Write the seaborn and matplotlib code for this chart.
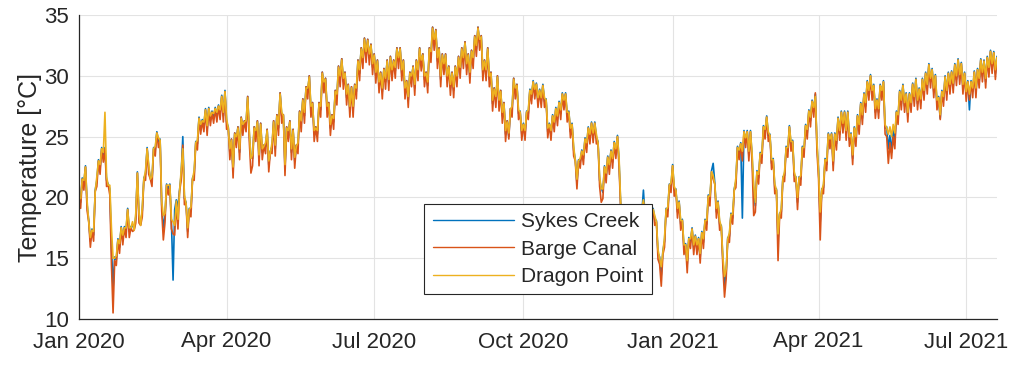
import matplotlib
matplotlib.use("Agg")
import matplotlib.pyplot as plt
import numpy as np
import pandas as pd
import seaborn as sns

# Daily water temperature (°C) at three lagoon stations, starting 1 Jan 2020.
# Values alternate between daytime highs and night-time lows.
sykes_creek = [
    20.1, 19.6, 21.6, 21.1, 22.6, 19.4, 18.1, 16.4, 17.4, 16.9,
    20.6, 21.4, 23.1, 22.4, 24.1, 23.4, 24.1, 21.4, 21.1, 20.7,
    16.0, 12.5, 15.1, 14.9, 16.6, 15.9, 17.6, 16.6, 17.6, 17.2,
    19.1, 17.2, 17.6, 17.7, 17.4, 18.4, 22.1, 18.4, 17.8, 18.9,
    21.6, 21.9, 24.1, 22.4, 21.6, 21.4, 24.1, 23.9, 25.4, 24.6,
    24.8, 19.4, 17.5, 18.4, 21.1, 20.7, 21.1, 17.9, 13.2, 19.0,
    19.8, 19.2, 20.6, 21.9, 25.0, 19.9, 19.6, 17.2, 19.1, 18.9,
    21.6, 21.9, 24.6, 24.4, 26.6, 25.7, 26.4, 25.9, 27.3, 25.6,
    27.4, 26.4, 27.1, 26.6, 27.4, 26.7, 27.6, 26.9, 28.4, 26.7,
    28.8, 26.2, 25.8, 23.7, 24.8, 22.2, 25.3, 24.7, 25.8, 23.7,
    26.6, 25.7, 26.3, 26.0, 28.3, 25.2, 23.3, 23.2, 25.8, 25.2,
    26.3, 23.2, 26.1, 23.7, 24.3, 24.2, 25.6, 22.7, 23.8, 24.2,
    26.3, 24.0, 26.8, 25.7, 28.6, 26.7, 26.8, 22.4, 25.8, 25.2,
    26.3, 23.7, 25.6, 23.0, 24.3, 24.2, 27.1, 26.0, 28.1, 26.7,
    29.1, 28.7, 30.0, 27.2, 27.8, 25.2, 25.8, 25.2, 27.8, 27.2,
    30.3, 29.2, 29.8, 27.2, 27.8, 25.7, 26.8, 26.2, 28.8, 28.2,
    30.8, 29.7, 31.4, 29.5, 30.3, 28.2, 29.3, 27.2, 29.1, 27.2,
    29.3, 28.7, 31.3, 30.2, 32.3, 31.2, 33.1, 31.7, 33.0, 31.5,
    32.6, 30.7, 31.8, 30.0, 31.3, 29.2, 30.3, 28.7, 30.6, 29.5,
    31.3, 29.4, 31.6, 30.2, 31.3, 30.4, 32.3, 31.2, 32.3, 30.2,
    31.3, 28.7, 29.6, 28.0, 30.3, 29.7, 30.8, 29.0, 31.3, 30.2,
    32.3, 31.0, 31.8, 29.7, 30.3, 29.2, 32.3, 31.7, 34.0, 32.7,
    33.8, 31.2, 32.3, 29.7, 31.8, 30.7, 31.8, 29.7, 30.8, 29.0,
    30.3, 28.8, 30.8, 29.7, 31.6, 30.4, 32.3, 31.2, 32.8, 30.7,
    31.8, 30.0, 32.1, 31.2, 33.3, 32.2, 34.0, 32.7, 33.3, 30.2,
    31.3, 30.2, 32.3, 29.7, 30.3, 27.7, 29.0, 28.0, 30.0, 27.7,
    28.8, 26.7, 27.8, 25.2, 26.3, 25.0, 27.3, 27.2, 29.8, 28.7,
    29.3, 26.9, 27.1, 25.2, 26.1, 25.2, 27.1, 26.9, 28.9, 28.2,
    29.6, 28.6, 29.4, 27.9, 28.9, 27.9, 29.3, 27.9, 28.1, 25.4,
    26.1, 25.2, 26.8, 25.9, 27.4, 26.4, 27.9, 26.9, 28.6, 27.7,
    28.6, 26.7, 27.1, 25.4, 26.1, 23.9, 23.1, 21.2, 23.1, 22.9,
    23.9, 23.2, 24.9, 24.2, 25.8, 24.9, 26.2, 25.0, 26.2, 24.9,
    24.6, 21.4, 20.8, 20.4, 22.6, 21.7, 23.4, 22.4, 23.9, 22.9,
    24.6, 23.7, 25.1, 22.9, 19.3, 17.7, 18.1, 16.4, 17.4, 16.4,
    18.1, 16.6, 18.4, 17.4, 18.1, 17.6, 19.4, 18.7, 20.6, 18.4,
    18.6, 16.9, 19.1, 18.7, 19.1, 18.2, 18.1, 15.4, 15.1, 13.6,
    15.6, 16.4, 19.1, 18.9, 21.1, 20.9, 22.7, 20.6, 20.7, 18.8,
    19.7, 17.8, 18.2, 15.8, 16.2, 14.5, 16.7, 16.3, 17.5, 15.8,
    16.9, 15.8, 16.7, 15.1, 17.2, 16.3, 18.2, 17.8, 20.2, 19.8,
    22.2, 22.8, 21.2, 18.8, 19.7, 17.8, 17.7, 14.8, 12.8, 13.8,
    16.7, 16.8, 18.7, 18.3, 20.7, 21.3, 24.2, 23.6, 24.5, 18.3,
    25.5, 24.6, 25.5, 23.5, 25.5, 23.3, 20.5, 19.3, 22.2, 21.6,
    23.7, 23.3, 25.9, 25.3, 26.7, 25.1, 25.2, 22.8, 23.2, 20.8,
    20.7, 16.5, 18.7, 18.8, 21.7, 21.8, 24.2, 23.8, 25.9, 24.3,
    24.7, 21.8, 21.7, 19.6, 21.7, 21.5, 24.2, 23.8, 26.0, 25.3,
    27.2, 26.3, 28.0, 27.1, 28.5, 24.3, 22.2, 18.0, 20.7, 20.8,
    23.2, 22.7, 25.3, 24.5, 25.3, 22.7, 25.3, 24.4, 26.6, 25.2,
    27.1, 25.8, 27.1, 25.2, 27.1, 24.7, 25.3, 23.2, 25.8, 24.7,
    26.8, 25.7, 27.8, 26.5, 28.6, 27.5, 29.6, 28.5, 30.1, 28.5,
    29.3, 27.0, 28.1, 27.0, 29.3, 28.5, 29.6, 25.7, 25.8, 24.0,
    25.1, 23.7, 25.6, 24.5, 27.1, 26.5, 28.8, 27.7, 29.3, 27.5,
    28.6, 26.7, 28.6, 27.5, 29.4, 28.0, 29.8, 27.7, 29.0, 27.8,
    29.8, 28.5, 30.3, 29.0, 31.0, 29.5, 30.6, 28.7, 30.1, 27.7,
    28.3, 26.5, 28.8, 28.0, 30.0, 28.5, 30.3, 29.0, 30.4, 29.1,
    31.0, 29.7, 31.4, 29.8, 31.1, 29.0, 30.3, 28.4, 29.6, 27.2,
    29.6, 28.7, 30.4, 28.7, 30.6, 29.5, 31.4, 30.0, 31.3, 29.5,
    31.6, 30.4, 32.1, 30.7, 32.0, 30.2, 31.6,
]

barge_canal = [
    20.0, 19.1, 21.5, 20.6, 22.5, 18.9, 18.0, 15.9, 17.3, 16.4,
    20.5, 20.9, 23.0, 21.9, 24.0, 22.9, 24.0, 20.9, 21.0, 20.2,
    14.5, 10.5, 14.8, 14.4, 16.5, 15.4, 17.5, 16.1, 17.5, 16.7,
    19.0, 16.7, 17.5, 17.2, 17.3, 17.9, 22.0, 17.9, 17.7, 18.4,
    21.5, 21.4, 24.0, 21.9, 21.5, 20.9, 24.0, 23.4, 25.3, 24.1,
    24.7, 18.9, 16.5, 17.9, 21.0, 20.2, 21.0, 17.4, 17.0, 16.9,
    19.5, 17.4, 20.5, 21.4, 24.3, 19.4, 19.5, 16.7, 19.0, 18.4,
    21.5, 21.4, 24.5, 23.9, 26.5, 25.2, 26.3, 25.4, 27.2, 25.1,
    27.3, 25.9, 27.0, 26.1, 27.3, 26.2, 27.5, 26.4, 28.3, 26.2,
    28.7, 25.6, 25.8, 23.1, 24.8, 21.6, 25.3, 24.1, 25.8, 23.1,
    26.6, 25.1, 26.3, 25.4, 28.3, 24.6, 22.0, 22.6, 25.8, 24.6,
    26.3, 22.6, 26.1, 23.1, 24.3, 23.6, 25.6, 22.1, 23.8, 23.6,
    26.3, 23.4, 26.8, 25.1, 28.6, 26.1, 26.8, 21.8, 25.8, 24.6,
    26.3, 23.1, 25.6, 22.4, 24.3, 23.6, 27.1, 25.4, 28.1, 26.1,
    29.1, 28.1, 30.0, 26.6, 27.8, 24.6, 25.8, 24.6, 27.8, 26.6,
    30.3, 28.6, 29.8, 26.6, 27.8, 25.1, 26.8, 25.6, 28.8, 27.6,
    30.8, 29.1, 31.4, 28.9, 30.3, 27.6, 29.3, 26.6, 29.1, 26.6,
    29.3, 28.1, 31.3, 29.6, 32.3, 30.6, 33.1, 31.1, 33.0, 30.9,
    32.6, 30.1, 31.8, 29.4, 31.3, 28.6, 30.3, 28.1, 30.6, 28.9,
    31.3, 28.8, 31.6, 29.6, 31.3, 29.8, 32.3, 30.6, 32.3, 29.6,
    31.3, 28.1, 29.6, 27.4, 30.3, 29.1, 30.8, 28.4, 31.3, 29.6,
    32.3, 30.4, 31.8, 29.1, 30.3, 28.6, 32.3, 31.1, 34.0, 32.1,
    33.8, 30.6, 32.3, 29.1, 31.8, 30.1, 31.8, 29.1, 30.8, 28.4,
    30.3, 28.2, 30.8, 29.1, 31.6, 29.8, 32.3, 30.6, 32.8, 30.1,
    31.8, 29.4, 32.1, 30.6, 33.3, 31.6, 34.0, 32.1, 33.3, 29.6,
    31.3, 29.6, 32.3, 29.1, 30.3, 27.1, 29.0, 27.4, 30.0, 27.1,
    28.8, 26.1, 27.8, 24.6, 26.3, 24.8, 27.3, 26.6, 29.8, 28.1,
    29.3, 26.4, 27.0, 24.7, 26.0, 24.7, 27.0, 26.4, 28.8, 27.7,
    29.5, 28.1, 29.3, 27.4, 28.8, 27.4, 29.2, 27.4, 28.0, 24.9,
    26.0, 24.7, 26.7, 25.4, 27.3, 25.9, 27.8, 26.4, 28.5, 27.2,
    28.5, 26.2, 27.0, 24.9, 26.0, 23.4, 23.0, 20.7, 23.0, 22.4,
    23.8, 22.7, 24.8, 23.7, 25.7, 24.4, 26.1, 24.5, 26.1, 24.4,
    24.5, 20.9, 19.6, 19.9, 22.5, 21.2, 23.3, 21.9, 23.8, 22.4,
    24.5, 23.2, 25.0, 22.4, 19.0, 17.2, 18.0, 15.9, 17.3, 15.9,
    18.0, 16.1, 18.3, 16.9, 18.0, 17.1, 19.3, 18.2, 19.6, 17.9,
    18.5, 16.4, 19.0, 18.2, 19.0, 17.7, 18.0, 14.9, 14.5, 12.7,
    15.3, 15.9, 19.0, 18.4, 21.0, 20.4, 22.6, 20.1, 20.6, 18.3,
    19.6, 17.3, 18.1, 15.3, 16.1, 13.8, 16.6, 15.8, 17.4, 15.3,
    16.8, 15.3, 16.6, 14.6, 17.1, 15.8, 18.1, 17.3, 20.1, 19.3,
    22.1, 21.5, 21.1, 18.3, 19.6, 17.3, 17.6, 14.3, 11.8, 13.3,
    16.6, 16.3, 18.6, 17.8, 20.6, 20.8, 24.1, 23.1, 24.4, 23.0,
    25.4, 24.1, 25.4, 23.0, 25.4, 22.8, 18.5, 18.8, 22.1, 21.1,
    23.6, 22.8, 25.8, 24.8, 26.6, 24.6, 25.1, 22.3, 23.1, 20.3,
    20.6, 14.8, 18.6, 18.3, 21.6, 21.3, 24.1, 23.3, 25.8, 23.8,
    24.6, 21.3, 21.6, 19.0, 21.6, 21.0, 24.1, 23.3, 25.9, 24.8,
    27.1, 25.8, 27.9, 26.6, 28.6, 23.8, 21.5, 16.5, 20.6, 20.3,
    23.1, 22.2, 25.2, 24.0, 25.2, 22.2, 25.2, 23.9, 26.5, 24.7,
    27.0, 25.3, 27.0, 24.7, 27.0, 24.2, 25.2, 22.7, 25.7, 24.2,
    26.7, 25.2, 27.7, 26.0, 28.5, 27.0, 29.5, 28.0, 30.0, 28.0,
    29.2, 26.5, 28.0, 26.5, 29.2, 28.0, 29.5, 25.2, 25.0, 22.8,
    24.5, 23.2, 25.0, 24.0, 27.0, 26.0, 28.7, 27.2, 29.2, 27.0,
    28.5, 26.2, 28.5, 27.0, 29.3, 27.5, 29.7, 27.2, 28.9, 27.3,
    29.7, 28.0, 30.2, 28.5, 30.9, 29.0, 30.5, 28.2, 30.0, 27.2,
    28.2, 26.4, 28.7, 27.5, 29.9, 28.0, 30.2, 28.5, 30.3, 28.6,
    30.9, 29.2, 31.3, 29.3, 31.0, 28.5, 30.2, 27.9, 29.5, 28.0,
    29.5, 28.2, 30.3, 28.2, 30.5, 29.0, 31.3, 29.5, 31.2, 29.0,
    31.5, 29.9, 32.0, 30.2, 31.9, 29.7, 31.5,
]

dragon_point = [
    20.0, 19.9, 21.5, 21.4, 22.5, 19.7, 18.0, 16.7, 17.3, 17.2,
    20.5, 21.7, 23.0, 22.7, 24.0, 23.7, 27.0, 21.7, 21.0, 21.0,
    17.5, 15.0, 15.0, 15.2, 16.5, 16.2, 17.5, 16.9, 17.5, 17.5,
    19.0, 17.5, 17.5, 18.0, 17.3, 18.7, 22.0, 18.7, 17.7, 19.2,
    21.5, 22.2, 24.0, 22.7, 21.5, 21.7, 24.0, 24.2, 25.3, 24.9,
    24.7, 19.7, 18.5, 18.7, 21.0, 21.0, 21.0, 18.2, 18.0, 17.7,
    19.7, 18.2, 20.5, 22.2, 24.0, 20.2, 19.5, 17.5, 19.0, 19.2,
    21.5, 22.2, 24.5, 24.7, 26.5, 26.0, 26.3, 26.2, 27.2, 25.9,
    27.3, 26.7, 27.0, 26.9, 27.3, 27.0, 27.5, 27.2, 28.3, 27.0,
    28.7, 26.5, 25.7, 24.0, 24.7, 22.5, 25.2, 25.0, 25.7, 24.0,
    26.5, 26.0, 26.2, 26.3, 28.2, 25.5, 23.2, 23.5, 25.7, 25.5,
    26.2, 23.5, 26.0, 24.0, 24.2, 24.5, 25.5, 23.0, 23.7, 24.5,
    26.2, 24.3, 26.7, 26.0, 28.5, 27.0, 26.7, 22.7, 25.7, 25.5,
    26.2, 24.0, 25.5, 23.3, 24.2, 24.5, 27.0, 26.3, 28.0, 27.0,
    29.0, 29.0, 29.9, 27.5, 27.7, 25.5, 25.7, 25.5, 27.7, 27.5,
    30.2, 29.5, 29.7, 27.5, 27.7, 26.0, 26.7, 26.5, 28.7, 28.5,
    30.7, 30.0, 31.3, 29.8, 30.2, 28.5, 29.2, 27.5, 29.0, 27.5,
    29.2, 29.0, 31.2, 30.5, 32.2, 31.5, 33.0, 32.0, 32.9, 31.8,
    32.5, 31.0, 31.7, 30.3, 31.2, 29.5, 30.2, 29.0, 30.5, 29.8,
    31.2, 29.7, 31.5, 30.5, 31.2, 30.7, 32.2, 31.5, 32.2, 30.5,
    31.2, 29.0, 29.5, 28.3, 30.2, 30.0, 30.7, 29.3, 31.2, 30.5,
    32.2, 31.3, 31.7, 30.0, 30.2, 29.5, 32.2, 32.0, 33.9, 33.0,
    33.7, 31.5, 32.2, 30.0, 31.7, 31.0, 31.7, 30.0, 30.7, 29.3,
    30.2, 29.1, 30.7, 30.0, 31.5, 30.7, 32.2, 31.5, 32.7, 31.0,
    31.7, 30.3, 32.0, 31.5, 33.2, 32.5, 33.9, 33.0, 33.2, 30.5,
    31.2, 30.5, 32.2, 30.0, 30.2, 28.0, 28.9, 28.3, 29.9, 28.0,
    28.7, 27.0, 27.7, 25.5, 26.2, 25.3, 27.2, 27.5, 29.7, 29.0,
    29.2, 27.2, 27.0, 25.5, 26.0, 25.5, 27.0, 27.2, 28.8, 28.5,
    29.5, 28.9, 29.3, 28.2, 28.8, 28.2, 29.2, 28.2, 28.0, 25.7,
    26.0, 25.5, 26.7, 26.2, 27.3, 26.7, 27.8, 27.2, 28.5, 28.0,
    28.5, 27.0, 27.0, 25.7, 26.0, 24.2, 23.0, 21.5, 23.0, 23.2,
    23.8, 23.5, 24.8, 24.5, 25.7, 25.2, 26.1, 25.3, 26.1, 25.2,
    24.5, 21.7, 20.7, 20.7, 22.5, 22.0, 23.3, 22.7, 23.8, 23.2,
    24.5, 24.0, 25.0, 23.2, 19.5, 18.0, 18.0, 16.7, 17.3, 16.7,
    18.0, 16.9, 18.3, 17.7, 18.0, 17.9, 19.3, 19.0, 19.8, 18.7,
    18.5, 17.2, 19.0, 19.0, 19.0, 18.5, 18.0, 15.7, 15.0, 14.3,
    15.5, 16.7, 19.0, 19.2, 21.0, 21.2, 22.6, 20.9, 20.6, 19.1,
    19.6, 18.1, 18.1, 16.1, 16.1, 14.8, 16.6, 16.6, 17.4, 16.1,
    16.8, 16.1, 16.6, 15.4, 17.1, 16.6, 18.1, 18.1, 20.1, 20.1,
    22.1, 21.8, 21.1, 19.1, 19.6, 18.1, 17.6, 15.1, 13.5, 14.1,
    16.6, 17.1, 18.6, 18.6, 20.6, 21.6, 24.1, 23.9, 24.4, 23.8,
    25.4, 24.9, 25.4, 23.8, 25.4, 23.6, 21.0, 19.6, 22.1, 21.9,
    23.6, 23.6, 25.8, 25.6, 26.6, 25.4, 25.1, 23.1, 23.1, 21.1,
    20.6, 17.0, 18.6, 19.1, 21.6, 22.1, 24.1, 24.1, 25.8, 24.6,
    24.6, 22.1, 21.6, 20.0, 21.6, 21.8, 24.1, 24.1, 25.9, 25.6,
    27.1, 26.6, 27.9, 27.4, 28.3, 24.6, 22.1, 18.8, 20.6, 21.1,
    23.1, 23.0, 25.2, 24.8, 25.2, 23.0, 25.2, 24.7, 26.5, 25.5,
    27.0, 26.1, 27.0, 25.5, 27.0, 25.0, 25.2, 23.5, 25.7, 25.0,
    26.7, 26.0, 27.7, 26.8, 28.5, 27.8, 29.5, 28.8, 30.0, 28.8,
    29.2, 27.3, 28.0, 27.3, 29.2, 28.8, 29.5, 26.0, 25.7, 25.2,
    25.8, 25.0, 26.0, 25.3, 27.0, 26.8, 28.7, 28.0, 29.2, 27.8,
    28.5, 27.0, 28.5, 27.8, 29.3, 28.3, 29.7, 28.0, 28.9, 28.1,
    29.7, 28.8, 30.2, 29.3, 30.9, 29.8, 30.5, 29.0, 30.0, 28.0,
    28.2, 26.8, 28.7, 28.3, 29.9, 28.8, 30.2, 29.3, 30.3, 29.4,
    30.9, 30.0, 31.3, 30.1, 31.0, 29.3, 30.2, 28.7, 29.5, 28.5,
    29.5, 29.0, 30.3, 29.0, 30.5, 29.8, 31.3, 30.3, 31.2, 29.8,
    31.5, 30.7, 32.0, 31.0, 31.9, 30.5, 31.5,
]

start_date = "2020-01-01"
site_names = ["Sykes Creek", "Barge Canal", "Dragon Point"]
site_colors = ["#0072BD", "#D95319", "#EDB120"]
tick_dates = ["2020-01-01", "2020-04-01", "2020-07-01", "2020-10-01",
              "2021-01-01", "2021-04-01", "2021-07-01"]
tick_labels = ["Jan 2020", "Apr 2020", "Jul 2020", "Oct 2020",
               "Jan 2021", "Apr 2021", "Jul 2021"]
y_ticks = [10, 15, 20, 25, 30, 35]

frames = []
for name, values in zip(site_names, [sykes_creek, barge_canal, dragon_point]):
    frames.append(pd.DataFrame({
        "date": pd.date_range(start_date, periods=len(values), freq="D"),
        "temp": values,
        "site": name,
    }))
df = pd.concat(frames, ignore_index=True)

sns.set_style("whitegrid")
plt.rcParams["font.family"] = ["Liberation Sans", "DejaVu Sans"]
ink = "#262626"

fig = plt.figure(figsize=(10.10, 3.66), dpi=100)
ax = fig.add_axes([79 / 1010, 1 - 319 / 366, (997 - 79) / 1010, (319 - 15) / 366])

sns.lineplot(data=df, x="date", y="temp", hue="site", hue_order=site_names,
             palette=site_colors, estimator=None, linewidth=1.2, ax=ax,
             legend=False)

ax.set_xlim(pd.Timestamp(start_date), df["date"].max())
ax.set_ylim(y_ticks[0], y_ticks[-1])
ax.set_yticks(y_ticks)
ax.set_xticks(pd.to_datetime(tick_dates))
ax.set_xticklabels(tick_labels)
ax.set_xlabel("")
ax.set_ylabel("Temperature [°C]", fontsize=18, color=ink, labelpad=2)

ax.grid(True, color="#e3e3e3", linewidth=0.8)
for side in ["top", "right"]:
    ax.spines[side].set_visible(False)
for side in ["left", "bottom"]:
    ax.spines[side].set_visible(True)
    ax.spines[side].set_color(ink)
    ax.spines[side].set_linewidth(0.9)
ax.tick_params(axis="both", direction="out", length=4, width=0.9,
               color=ink, labelcolor=ink, labelsize=16, pad=3)
ax.tick_params(axis="x", pad=5)

handles = [plt.Line2D([], [], color=c, linewidth=1.0) for c in site_colors]
leg = ax.legend(handles, site_names, loc="upper left",
                bbox_to_anchor=(0.376, 0.378), borderaxespad=0,
                fontsize=15, frameon=True, fancybox=False, framealpha=1,
                handlelength=3.9, handletextpad=0.35, labelspacing=0.4,
                borderpad=0.4)
leg.get_frame().set_edgecolor(ink)
leg.get_frame().set_linewidth(0.8)
for t in leg.get_texts():
    t.set_color(ink)

fig.savefig("out.png", dpi=100)
